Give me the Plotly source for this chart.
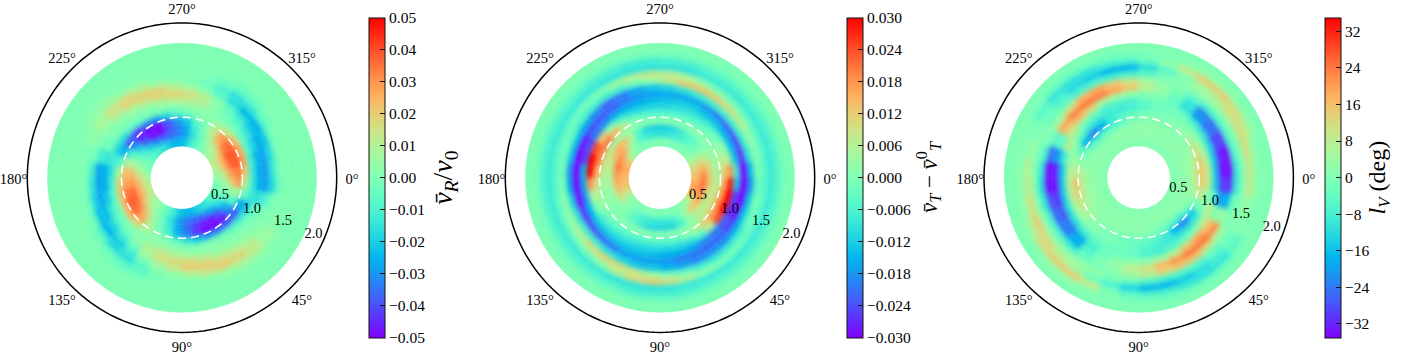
import math
import plotly.graph_objects as go

r_edges = [0.47, 0.6, 0.7, 0.8, 0.9, 1.0, 1.1, 1.2, 1.3, 1.4, 1.5, 1.6, 1.7, 1.8, 1.9, 2.0]
theta_centers = list(range(5, 360, 10))
ring_theta = list(range(0, 361, 2))
dashed_ring_radius = 0.9
frame_radius = 2.3
angle_ticks = [0, 45, 90, 135, 180, 225, 270, 315]
angle_label_r = [2.528, 2.557, 2.545, 2.557, 2.505, 2.504, 2.490, 2.504]
angle_label_theta = [0.84, 45.75, 90, 134.25, 179.16, 224.57, 270, 315.43]
radial_labels = ["0.5", "1.0", "1.5", "2.0"]
radial_label_r = [0.625, 1.141, 1.638, 2.131]
radial_label_theta = [25.3, 24.2, 23.5, 23.4]
radial_label_r_lv = [0.612, 1.118, 1.615, 2.112]
radial_label_theta_lv = [15.2, 18.5, 19.6, 20.5]

# panel 1: v_R / v_0, in units of 0.001; one row per radial bin, inner to outer
vr_grid = [
 [2,-2,-4,-8,-12,-16,-20,-24,-24,-20,-12,-5,0,5,8,13,13,10,6,0,-3,-6,-10,-14,-18,-24,-24,-22,-12,-5,0,6,8,13,11,6],
 [6,0,-5,-14,-24,-30,-36,-36,-34,-28,-16,-6,2,10,18,25,25,22,15,5,-3,-10,-20,-30,-36,-36,-34,-28,-16,-5,4,11,18,25,25,16],
 [20,4,-8,-24,-38,-46,-46,-42,-36,-26,-13,-3,6,20,32,37,36,29,22,10,-4,-18,-36,-46,-48,-40,-34,-26,-12,-2,10,25,34,39,37,30],
 [30,8,-8,-32,-46,-50,-50,-44,-34,-24,-10,-2,11,28,37,39,34,27,24,10,-10,-32,-46,-50,-50,-40,-30,-22,-8,0,14,30,37,39,39,34],
 [11,-4,-28,-38,-38,-34,-30,-22,-14,-6,0,2,7,18,25,23,22,18,8,-8,-26,-38,-42,-34,-30,-18,-10,-4,0,2,7,14,23,27,27,20],
 [-12,-12,-22,-14,-8,-4,0,0,0,2,3,3,1,0,-1,-3,-6,-10,-14,-12,-18,-16,-7,-4,-1,0,0,2,3,1,0,-1,-3,-6,-10,-12],
 [-25,-16,-6,-2,0,1,2,3,5,9,13,10,3,-3,-7,-12,-20,-25,-25,-14,-4,0,0,1,2,6,10,11,10,3,-3,-7,-12,-18,-24,-26],
 [-28,-12,-2,0,2,4,7,13,17,18,16,8,-4,-12,-18,-23,-27,-28,-28,-12,-2,0,3,7,13,18,19,17,12,3,-6,-14,-21,-26,-28,-29],
 [-18,-4,0,2,7,13,17,20,21,14,7,0,-12,-20,-25,-23,-18,-14,-10,-2,2,5,12,19,20,19,12,7,1,-7,-16,-24,-25,-22,-18,-14],
 [-4,0,1,5,13,19,20,15,8,3,0,-8,-16,-17,-10,-4,-2,0,0,0,3,9,16,17,11,5,2,0,-3,-10,-16,-14,-8,-4,-2,-2],
 [0,0,2,6,11,9,5,2,0,0,-2,-6,-7,-4,-2,0,0,0,0,0,2,5,6,3,2,0,0,0,-1,-4,-6,-5,-2,0,0,0],
 [0,0,0,2,3,2,0,0,0,0,0,-1,-2,-1,0,0,0,0,0,0,0,2,2,0,0,0,0,0,0,-1,-2,-1,0,0,0,0],
 [0]*36, [0]*36, [0]*36,
]

# panel 2: v_T - v_T^0, in units of 0.001
vt_grid = [
 [15,17,14,8,3,1,0,0,0,0,0,0,0,1,2,8,12,14,15,16,14,6,2,0,0,0,0,0,0,0,0,0,2,6,10,13],
 [21,21,19,15,12,4,-3,-7,-8,-8,-7,-6,-4,0,4,10,14,16,18,21,19,16,8,0,-6,-8,-9,-9,-8,-7,-5,-3,0,8,14,19],
 [12,10,8,7,7,2,-6,-11,-11,-11,-10,-7,-4,0,0,2,3,5,6,8,12,16,14,6,-5,-11,-12,-12,-11,-8,-5,-3,0,6,10,12],
 [5,8,9,8,6,2,1,1,1,1,1,1,1,1,1,2,2,4,6,8,7,5,4,2,1,1,1,1,1,1,1,1,1,2,3,4],
 [14,17,19,17,12,5,0,-3,-4,-4,-4,-4,-3,-2,-1,2,6,9,15,19,20,20,15,7,0,-3,-4,-4,-3,-3,-2,-1,0,3,7,11],
 [28,30,30,24,6,-5,-9,-10,-10,-10,-10,-9,-8,-7,-6,0,5,18,30,30,24,12,2,-5,-9,-10,-10,-10,-9,-8,-7,-5,-2,2,7,18],
 [-12,-24,-26,-22,-20,-18,-16,-15,-15,-14,-13,-13,-13,-13,-13,-15,-18,-16,-14,-24,-24,-20,-18,-16,-15,-15,-14,-13,-12,-12,-13,-13,-14,-14,-13,-8],
 [-30,-30,-28,-25,-22,-22,-21,-20,-18,-17,-17,-17,-20,-22,-24,-26,-29,-30,-30,-30,-28,-24,-23,-22,-20,-18,-17,-16,-16,-16,-18,-20,-22,-24,-26,-30],
 [-18,-14,-14,-16,-18,-18,-19,-17,-15,-13,-13,-11,-9,-7,-7,-9,-12,-16,-18,-14,-14,-16,-19,-22,-20,-16,-13,-11,-9,-8,-7,-6,-6,-7,-9,-14],
 [-3,-1,-3,-6,-7,-8,-7,-3,0,4,8,10,11,10,6,3,2,0,-1,-2,-3,-5,-6,-7,-6,-2,3,8,12,13,12,10,7,3,1,0],
 [-4,-3,-3,-2,-1,0,2,6,10,12,10,6,2,0,-1,-2,-3,-4,-4,-3,-3,-2,-1,0,4,7,8,7,5,2,0,-1,-2,-3,-3,-4],
 [-8,-8,-8,-8,-8,-8,-8,-8,-9,-9,-9,-9,-8,-8,-8,-8,-8,-8,-8,-8,-8,-8,-8,-8,-9,-9,-9,-9,-9,-8,-8,-8,-8,-8,-8,-8],
 [-5,-5,-5,-5,-5,-5,-5,-6,-6,-6,-6,-5,-5,-5,-5,-5,-5,-5,-5,-5,-5,-5,-5,-6,-6,-7,-7,-6,-6,-5,-5,-5,-5,-5,-5,-5],
 [-1,-1,-1,-1,-1,-1,-1,-1,-1,-1,-1,-1,-1,-1,-1,-1,-1,-1,-1,-1,-1,-1,-1,-1,-1,-1,-1,-1,-1,-1,-1,-1,-1,-1,-1,-1],
 [0]*36,
]

# panel 3: l_V in degrees
lv_grid = [
 [1]*36,
 [2]*36,
 [3,3,2,2,1,1,1,1,2,2,2,2,2,2,2,3,3,3,3,2,2,1,1,1,2,2,3,3,3,2,2,2,2,2,3,3],
 [8,5,1,-3,-8,-5,-2,0,1,1,1,1,1,2,4,6,8,9,6,2,-1,-5,-8,-6,-5,-3,0,1,1,1,1,1,2,4,7,9],
 [14,9,-2,-15,-23,-18,-9,-5,-4,-3,-2,-1,0,2,6,10,13,15,9,3,-5,-18,-23,-18,-9,-5,-3,-1,0,0,1,3,7,11,14,15],
 [9,3,0,-8,-10,-10,-9,-8,-5,-3,-2,-1,-1,0,2,4,7,7,6,4,2,-4,-9,-10,-9,-9,-8,-5,-3,-1,0,0,1,4,6,8],
 [-14,-5,9,6,1,-3,-6,-8,-7,-4,-3,-3,-5,-8,-11,-12,-14,-15,-15,-8,8,5,0,-3,-7,-7,-7,-4,-2,-2,-3,-6,-9,-12,-14,-15],
 [-29,-20,0,15,19,15,8,4,2,1,0,-3,-8,-19,-24,-27,-30,-33,-32,-20,-4,12,16,13,6,4,2,0,0,-4,-11,-20,-24,-28,-31,-33],
 [-31,-18,4,22,24,24,21,17,11,8,3,0,-5,-18,-23,-25,-28,-34,-34,-25,-5,19,23,24,23,19,15,8,3,-2,-10,-23,-25,-29,-34,-34],
 [-10,-3,0,6,11,15,15,13,8,5,1,-1,-3,-7,-6,-7,-10,-12,-10,-6,0,5,11,17,19,15,10,5,2,0,-4,-7,-6,-6,-7,-10],
 [0,0,0,-1,-3,-5,-5,-6,-5,-3,-1,2,4,3,2,3,1,0,0,0,0,-2,-4,-6,-6,-7,-7,-5,-1,1,3,3,2,1,0,0],
 [9,3,1,-3,-7,-11,-14,-17,-17,-13,-7,-2,4,8,12,14,12,9,7,3,0,-3,-7,-12,-14,-17,-17,-11,-5,0,5,7,11,12,12,10],
 [2,1,0,-5,-10,-11,-10,-7,-6,-4,0,9,14,14,12,7,3,2,2,1,-1,-5,-10,-11,-10,-7,-6,-3,2,9,14,14,12,8,3,2],
 [0,0,0,-1,-2,-2,-2,-2,-1,-1,0,1,2,2,1,1,0,0,0,0,0,-1,-2,-2,-2,-2,-1,-1,0,1,2,2,1,1,0,0],
 [0]*36,
]

vr_limit, vt_limit, lv_limit = 0.05, 0.03, 35.0
vr_scale, vt_scale, lv_scale = 0.001, 0.001, 1.0


def rainbow_stop(x):
    return "rgb(%d,%d,%d)" % (
        round(255 * abs(2 * x - 0.5)),
        round(255 * math.sin(x * math.pi)),
        round(255 * math.cos(x * math.pi / 2)),
    )


rainbow = [[i / 32, rainbow_stop(i / 32)] for i in range(33)]
SERIF = "Liberation Serif"
W, H = 1403, 353
fig = go.Figure()

panels = [
    dict(grid=vr_grid, scale=vr_scale, limit=vr_limit, cx=182.0, bar=369, lr=radial_label_r, lt=radial_label_theta,
         dtick=0.01, fmt=".2f", title="<i>v̄</i><sub><i>R</i></sub>/<i>v</i><sub>0</sub>", tsize=28, sub="polar"),
    dict(grid=vt_grid, scale=vt_scale, limit=vt_limit, cx=660.0, bar=847, lr=radial_label_r, lt=radial_label_theta,
         dtick=0.006, fmt=".3f", title="<i>v̄</i><sub><i>T</i></sub> − <i>v̄</i><sup>0</sup><sub><i>T</i></sub>", tsize=23, sub="polar2"),
    dict(grid=lv_grid, scale=lv_scale, limit=lv_limit, cx=1138.7, bar=1325, lr=radial_label_r_lv, lt=radial_label_theta_lv,
         dtick=8, fmt="d", title="<i>l</i><sub><i>V</i></sub> (deg)", tsize=24, sub="polar3"),
]
RANGE_MAX = 2.6
R_PX, CY = 67.26 * RANGE_MAX, 177.7
for p in panels:
    r0, dr, th, val = [], [], [], []
    for i, row in enumerate(p["grid"]):
        for t, v in zip(theta_centers, row):
            r0.append(r_edges[i])
            dr.append(r_edges[i + 1] - r_edges[i])
            th.append(t)
            val.append(v * p["scale"])
    fig.add_trace(go.Barpolar(
        r=dr, base=r0, theta=th, width=10, subplot=p["sub"], hoverinfo="skip",
        marker=dict(
            color=val, colorscale=rainbow, cmin=-p["limit"], cmax=p["limit"],
            line=dict(width=0.6, color=val, colorscale=rainbow, cmin=-p["limit"], cmax=p["limit"]),
            colorbar=dict(
                x=p["bar"] / W, xanchor="left", xpad=0, y=1 - 177.6 / H, yanchor="middle", ypad=0,
                len=320.2 / H, lenmode="fraction", thickness=15.5, thicknessmode="pixels",
                outlinecolor="#111", outlinewidth=1, ticks="inside", ticklen=5, tickcolor="#111",
                tick0=0, dtick=p["dtick"], tickformat=p["fmt"],
                tickfont=dict(family=SERIF, size=15.5, color="black"),
                title=dict(text=p["title"], side="right", font=dict(family=SERIF, size=p["tsize"], color="black")),
            ),
        ),
    ))
    fig.add_trace(go.Scatterpolar(
        r=[dashed_ring_radius] * len(ring_theta), theta=ring_theta, mode="lines", subplot=p["sub"],
        line=dict(color="white", width=1.6, dash="8px,5px"), hoverinfo="skip", showlegend=False,
    ))
    fig.add_trace(go.Scatterpolar(
        r=[frame_radius] * len(ring_theta), theta=ring_theta, mode="lines", subplot=p["sub"],
        line=dict(color="black", width=1.5), hoverinfo="skip", showlegend=False,
    ))
    fig.add_trace(go.Scatterpolar(
        r=angle_label_r, theta=angle_label_theta, mode="text", subplot=p["sub"],
        text=["%d°" % a for a in angle_ticks], textposition="middle center",
        textfont=dict(family=SERIF, size=14.5, color="black"), hoverinfo="skip", showlegend=False,
    ))
    fig.add_trace(go.Scatterpolar(
        r=p["lr"], theta=p["lt"], mode="text", subplot=p["sub"],
        text=radial_labels, textposition="middle center",
        textfont=dict(family=SERIF, size=14.5, color="black"), hoverinfo="skip", showlegend=False,
    ))
    fig.layout[p["sub"]] = dict(
        domain=dict(x=[(p["cx"] - R_PX) / W, (p["cx"] + R_PX) / W],
                    y=[1 - (CY + R_PX) / H, 1 - (CY - R_PX) / H]),
        bgcolor="rgba(0,0,0,0)", barmode="overlay", bargap=0,
        angularaxis=dict(direction="clockwise", rotation=0, showticklabels=False, ticks="",
                         showgrid=False, showline=False),
        radialaxis=dict(range=[0, RANGE_MAX], showticklabels=False, ticks="", showgrid=False, showline=False),
    )

fig.update_layout(width=W, height=H, margin=dict(l=0, r=0, t=0, b=0), paper_bgcolor="white", showlegend=False)

soften = """
document.body.style.margin='0';document.body.style.overflow='hidden';
var svg=document.querySelector('.main-svg');
var ns='http://www.w3.org/2000/svg';
function el(n,a){var e=document.createElementNS(ns,n);for(var k in a){e.setAttribute(k,a[k]);}return e;}
var f=el('filter',{id:'soft',x:'-5%',y:'-5%',width:'110%',height:'110%','color-interpolation-filters':'sRGB'});
f.appendChild(el('feGaussianBlur',{'in':'SourceGraphic',stdDeviation:'2.4',result:'b'}));
var t=el('feComponentTransfer',{'in':'b',result:'o'});t.appendChild(el('feFuncA',{type:'linear',slope:'60'}));f.appendChild(t);
f.appendChild(el('feComposite',{'in':'o',in2:'SourceAlpha',operator:'in'}));
var d=el('defs',{});d.appendChild(f);svg.appendChild(d);
document.querySelectorAll('.barlayer').forEach(function(g){g.setAttribute('filter','url(#soft)');});
"""
fig.write_html("out.html", config={"displayModeBar": False}, post_script=soften)
